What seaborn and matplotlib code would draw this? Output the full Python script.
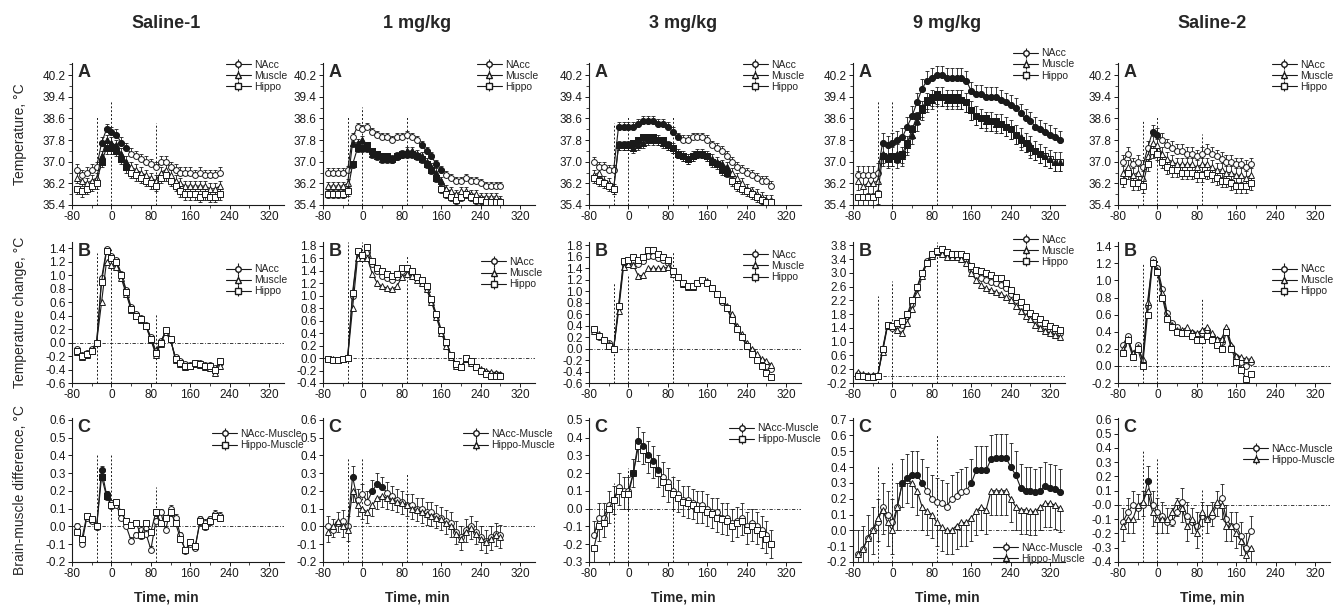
import numpy as np
import matplotlib
matplotlib.use("Agg")
import matplotlib.pyplot as plt
import matplotlib.ticker as ticker
import seaborn as sns

# ---- data (10-min bins) ----
COLUMNS = ["Saline-1", "1 mg/kg", "3 mg/kg", "9 mg/kg", "Saline-2"]

T_S1 = list(range(-70, 230, 10))
T_M1 = list(range(-70, 290, 10))
T_M3 = list(range(-70, 300, 10))
T_M9 = list(range(-70, 350, 10))
T_S2 = list(range(-70, 200, 10))

# A: absolute temperature
S1_A_NACC = [36.7,36.5,36.6,36.7,36.8,37.7,38.2,38.1,38.0,37.7, 37.5,37.3,37.2,37.1,37.0,36.9,36.8,37.0,37.0,36.8, 36.7,36.6,36.6,36.6,36.5,36.6,36.5,36.5,36.5,36.6]
S1_A_MUSC = [36.4,36.3,36.2,36.3,36.4,37.2,37.8,37.7,37.6,37.3, 37.0,36.8,36.7,36.6,36.5,36.4,36.3,36.6,36.7,36.5, 36.3,36.2,36.1,36.1,36.1,36.1,36.1,36.0,36.0,36.1]
S1_A_HIPP = [36.0,35.9,36.0,36.1,36.2,37.0,37.5,37.5,37.4,37.1, 36.8,36.6,36.5,36.4,36.3,36.2,36.1,36.4,36.5,36.3, 36.1,35.9,35.8,35.8,35.8,35.7,35.8,35.7,35.7,35.8]

M1_A_NACC = [36.6,36.6,36.6,36.6,36.7,37.9,38.3,38.2,38.3,38.1, 38.0,37.9,37.9,37.8,37.9,37.9,38.0,37.9,37.8,37.6, 37.4,37.2,36.9,36.7,36.5,36.4,36.3,36.3,36.4,36.3, 36.3,36.2,36.1,36.1,36.1,36.1]
M1_A_MUSC = [36.1,36.1,36.1,36.1,36.2,37.7,37.7,37.8,37.5,37.3, 37.2,37.1,37.1,37.1,37.2,37.3,37.4,37.4,37.3,37.2, 37.0,36.8,36.6,36.3,36.0,35.9,35.8,35.9,35.9,35.8, 35.8,35.7,35.7,35.7,35.7,35.6]
M1_A_HIPP = [35.8,35.8,35.8,35.8,35.9,36.9,37.5,37.5,37.6,37.4, 37.3,37.2,37.2,37.1,37.2,37.3,37.3,37.3,37.2,37.1, 36.9,36.7,36.4,36.0,35.8,35.7,35.6,35.7,35.8,35.7, 35.6,35.6,35.5,35.5,35.5,35.5]

M3_A_NACC = [37.0,36.8,36.8,36.7,36.7,38.3,38.3,38.3,38.3,38.4, 38.5,38.5,38.5,38.4,38.4,38.3,38.1,37.9,37.8,37.8, 37.9,37.9,37.9,37.8,37.6,37.5,37.4,37.2,37.0,36.8, 36.7,36.6,36.5,36.4,36.3,36.3,36.1]
M3_A_MUSC = [36.5,36.6,36.3,36.2,36.0,37.6,37.6,37.6,37.5,37.6, 37.7,37.8,37.8,37.8,37.7,37.6,37.5,37.3,37.2,37.1, 37.2,37.3,37.3,37.2,37.1,37.0,36.9,36.8,36.6,36.4, 36.2,36.0,35.9,35.8,35.7,35.6,35.6]
M3_A_HIPP = [36.4,36.3,36.2,36.1,36.0,37.6,37.6,37.6,37.7,37.8, 37.9,37.9,37.9,37.8,37.8,37.6,37.5,37.3,37.2,37.1, 37.2,37.3,37.3,37.2,37.0,36.9,36.7,36.6,36.3,36.1, 36.0,35.9,35.8,35.7,35.6,35.5,35.5]

M9_A_NACC = [36.5,36.5,36.5,36.5,36.6,37.7,37.6,37.7,37.8,37.9, 38.3,38.7,39.2,39.7,40.0,40.1,40.2,40.2,40.1,40.1, 40.1,40.1,40.0,39.6,39.5,39.5,39.4,39.4,39.4,39.3, 39.2,39.1,39.0,38.8,38.6,38.5,38.3,38.2,38.1,38.0, 37.9,37.8]
M9_A_MUSC = [36.3,36.1,36.2,36.2,36.3,37.3,37.2,37.2,37.3,37.2, 37.6,38.0,38.5,38.9,39.2,39.3,39.4,39.4,39.3,39.3, 39.3,39.3,39.2,38.9,38.7,38.6,38.5,38.5,38.4,38.4, 38.3,38.2,38.0,37.9,37.7,37.6,37.4,37.3,37.2,37.1, 37.0,37.0]
M9_A_HIPP = [35.7,35.7,35.7,35.7,35.8,37.2,37.1,37.2,37.1,37.3, 37.7,38.2,38.7,39.0,39.3,39.4,39.5,39.4,39.4,39.4, 39.4,39.3,39.2,38.9,38.7,38.6,38.6,38.5,38.5,38.4, 38.3,38.2,38.0,37.8,37.7,37.5,37.4,37.3,37.2,37.1, 37.0,37.0]

S2_A_NACC = [37.0,37.3,36.9,37.0,36.8,37.5,38.1,38.0,37.8,37.6, 37.5,37.4,37.4,37.3,37.3,37.2,37.3,37.4,37.3,37.2, 37.1,37.0,37.0,36.9,36.9,36.8,36.9]
S2_A_MUSC = [36.6,36.8,36.5,36.6,36.4,37.2,37.7,37.6,37.3,37.1, 37.0,36.9,36.9,36.9,36.9,36.8,36.9,36.9,36.8,36.7, 36.7,36.6,36.6,36.5,36.5,36.4,36.5]
S2_A_HIPP = [36.3,36.6,36.2,36.2,36.1,36.9,37.4,37.3,37.0,36.8, 36.7,36.7,36.6,36.6,36.6,36.5,36.5,36.6,36.5,36.4, 36.3,36.3,36.2,36.1,36.1,36.1,36.2]

# B: temperature change from baseline
S1_B_NACC = [-0.1,-0.18,-0.15,-0.1,0.0,0.95,1.38,1.28,1.22,1.02, 0.78,0.52,0.42,0.36,0.26,0.08,-0.12,0.02,0.15,0.03, -0.22,-0.28,-0.32,-0.33,-0.3,-0.3,-0.33,-0.34,-0.38,-0.3]
S1_B_MUSC = [-0.14,-0.22,-0.18,-0.12,0.0,0.6,1.2,1.15,1.12,0.95, 0.72,0.48,0.4,0.34,0.24,0.04,-0.18,-0.02,0.16,0.05, -0.26,-0.32,-0.36,-0.35,-0.32,-0.33,-0.36,-0.38,-0.45,-0.35]
S1_B_HIPP = [-0.12,-0.2,-0.17,-0.12,0.0,0.9,1.35,1.25,1.2,1.0, 0.75,0.5,0.4,0.35,0.25,0.05,-0.15,0.0,0.18,0.05, -0.25,-0.3,-0.35,-0.35,-0.3,-0.32,-0.35,-0.35,-0.4,-0.28]

M1_B_NACC = [-0.02,-0.03,-0.03,-0.02,0.0,1.0,1.7,1.62,1.7,1.5, 1.4,1.32,1.28,1.25,1.3,1.4,1.42,1.38,1.3,1.22, 1.12,0.92,0.68,0.42,0.22,0.03,-0.12,-0.15,-0.02,-0.08, -0.15,-0.2,-0.24,-0.25,-0.26,-0.27]
M1_B_MUSC = [-0.02,-0.02,-0.03,-0.02,0.0,0.8,1.6,1.6,1.6,1.35, 1.2,1.15,1.12,1.1,1.15,1.3,1.35,1.32,1.25,1.2, 1.1,0.9,0.65,0.4,0.2,0.02,-0.12,-0.15,-0.02,-0.08, -0.15,-0.18,-0.2,-0.22,-0.24,-0.25]
M1_B_HIPP = [-0.02,-0.03,-0.03,-0.02,0.0,1.05,1.72,1.65,1.78,1.55, 1.45,1.4,1.35,1.32,1.35,1.45,1.45,1.4,1.3,1.25, 1.15,0.95,0.7,0.45,0.25,0.05,-0.1,-0.15,0.0,-0.05, -0.15,-0.2,-0.25,-0.28,-0.28,-0.28]

M3_B_NACC = [0.35,0.2,0.15,0.1,0.0,0.72,1.5,1.52,1.55,1.48, 1.52,1.62,1.62,1.58,1.55,1.5,1.32,1.25,1.12,1.08, 1.1,1.15,1.2,1.15,1.05,0.95,0.82,0.7,0.55,0.35, 0.2,0.05,-0.05,-0.15,-0.22,-0.3,-0.35]
M3_B_MUSC = [0.3,0.25,0.15,0.08,0.0,0.65,1.42,1.48,1.45,1.27, 1.28,1.4,1.4,1.4,1.4,1.42,1.3,1.25,1.12,1.08, 1.08,1.15,1.2,1.18,1.05,0.95,0.85,0.75,0.6,0.4, 0.25,0.1,0.0,-0.1,-0.18,-0.22,-0.28]
M3_B_HIPP = [0.35,0.22,0.15,0.05,0.0,0.75,1.52,1.55,1.6,1.55, 1.6,1.72,1.72,1.65,1.6,1.55,1.35,1.25,1.15,1.1, 1.1,1.15,1.2,1.15,1.05,0.95,0.85,0.7,0.5,0.35, 0.2,0.05,-0.1,-0.2,-0.3,-0.42,-0.5]

M9_B_NACC = [0.05,0.0,0.0,0.0,0.0,0.75,1.5,1.4,1.5,1.5, 1.75,2.1,2.55,3.0,3.35,3.55,3.65,3.65,3.55,3.5, 3.5,3.5,3.4,3.1,2.95,2.85,2.8,2.75,2.7,2.65, 2.55,2.4,2.2,2.05,1.9,1.75,1.65,1.55,1.45,1.35, 1.3,1.25]
M9_B_MUSC = [0.12,0.05,0.02,0.02,0.02,0.7,1.45,1.45,1.35,1.25, 1.55,1.95,2.4,2.9,3.3,3.5,3.6,3.55,3.45,3.45, 3.45,3.4,3.3,3.0,2.8,2.65,2.55,2.5,2.45,2.4, 2.3,2.2,2.05,1.9,1.75,1.65,1.5,1.4,1.3,1.25, 1.2,1.15]
M9_B_HIPP = [0.0,0.0,-0.02,-0.02,0.0,0.8,1.5,1.45,1.55,1.6, 1.8,2.2,2.6,3.0,3.3,3.55,3.65,3.7,3.6,3.55, 3.55,3.55,3.5,3.2,3.1,3.05,3.0,2.95,2.85,2.85, 2.7,2.5,2.3,2.15,2.0,1.85,1.75,1.65,1.55,1.45, 1.4,1.35]

S2_B_NACC = [0.25,0.35,0.12,0.25,0.05,0.7,1.25,1.15,0.9,0.62, 0.5,0.45,0.4,0.4,0.38,0.35,0.38,0.42,0.35,0.3, 0.28,0.42,0.22,0.1,0.05,0.0,0.05]
S2_B_MUSC = [0.2,0.32,0.15,0.22,0.08,0.75,1.22,1.12,0.85,0.58, 0.48,0.42,0.42,0.45,0.4,0.38,0.42,0.45,0.38,0.32, 0.32,0.45,0.25,0.12,0.1,0.08,0.08]
S2_B_HIPP = [0.15,0.3,0.1,0.2,0.0,0.6,1.2,1.1,0.8,0.55, 0.45,0.4,0.38,0.38,0.35,0.3,0.3,0.35,0.3,0.25, 0.2,0.4,0.2,0.05,-0.05,-0.15,-0.1]

# C: brain-muscle differentials
S1_C_NACC = [0.0,-0.1,0.05,0.03,0.0,0.32,0.18,0.13,0.12,0.05, 0.0,-0.08,-0.05,-0.02,-0.04,-0.13,0.03,0.08,-0.02,0.1, 0.05,-0.05,-0.14,-0.1,-0.12,0.04,0.02,0.04,0.07,0.06]
S1_C_HIPP = [-0.03,-0.07,0.06,0.04,0.0,0.28,0.17,0.12,0.14,0.08, 0.03,0.01,0.02,-0.05,0.02,-0.03,0.08,0.02,0.05,0.08, 0.02,-0.07,-0.13,-0.09,-0.11,0.03,0.0,0.03,0.06,0.05]

M1_C_NACC = [0.0,-0.02,0.02,0.03,0.0,0.28,0.15,0.18,0.14,0.2, 0.24,0.22,0.19,0.17,0.15,0.14,0.12,0.12,0.1,0.1, 0.08,0.08,0.06,0.05,0.03,0.02,-0.03,-0.06,-0.02,0.0, -0.03,-0.06,-0.08,-0.06,-0.04,-0.05]
M1_C_HIPP = [-0.03,0.0,0.03,0.0,-0.02,0.2,0.12,0.1,0.08,0.12, 0.16,0.17,0.16,0.15,0.14,0.13,0.12,0.1,0.09,0.08, 0.07,0.06,0.05,0.04,0.02,0.0,-0.04,-0.07,-0.03,-0.01, -0.04,-0.07,-0.09,-0.07,-0.05,-0.06]

M3_C_NACC = [-0.15,-0.05,-0.05,0.02,0.05,0.12,0.1,0.1,0.2,0.38, 0.35,0.3,0.27,0.22,0.18,0.15,0.1,0.08,0.05,0.05, 0.03,0.02,0.02,0.0,-0.02,-0.02,-0.05,-0.05,-0.08,-0.07, -0.05,-0.1,-0.08,-0.1,-0.12,-0.15,-0.2]
M3_C_HIPP = [-0.22,-0.1,-0.08,0.0,0.05,0.1,0.08,0.08,0.2,0.35, 0.33,0.28,0.25,0.2,0.15,0.12,0.08,0.06,0.04,0.03, 0.02,0.0,0.0,-0.02,-0.03,-0.05,-0.06,-0.07,-0.1,-0.08, -0.07,-0.12,-0.1,-0.12,-0.14,-0.17,-0.2]

M9_C_NACC = [-0.15,-0.12,-0.05,0.0,0.05,0.15,0.1,0.05,0.15,0.3, 0.33,0.35,0.35,0.3,0.25,0.2,0.18,0.17,0.15,0.2, 0.22,0.24,0.25,0.3,0.38,0.38,0.38,0.45,0.46,0.46, 0.46,0.4,0.35,0.27,0.25,0.25,0.24,0.25,0.28,0.27, 0.26,0.24]
M9_C_HIPP = [-0.15,-0.12,-0.05,0.0,0.08,0.13,0.05,0.0,0.15,0.3, 0.32,0.3,0.25,0.15,0.12,0.1,0.05,0.02,0.0,0.0, 0.03,0.05,0.05,0.08,0.12,0.15,0.13,0.25,0.25,0.25, 0.25,0.2,0.15,0.13,0.13,0.12,0.12,0.15,0.17,0.17, 0.16,0.14]

S2_C_NACC = [-0.12,-0.05,0.0,-0.02,0.0,0.17,0.0,-0.05,-0.08,-0.12, -0.12,-0.05,0.02,-0.08,-0.12,-0.15,-0.08,-0.1,-0.08,0.0, 0.05,-0.1,-0.15,-0.15,-0.22,-0.3,-0.18]
S2_C_HIPP = [-0.15,-0.1,-0.1,0.0,0.02,0.1,-0.05,-0.1,-0.1,-0.1, -0.05,0.02,-0.02,-0.15,-0.1,-0.2,-0.05,-0.1,-0.05,0.02, 0.0,-0.15,-0.15,-0.2,-0.25,-0.35,-0.3]

# typical SEM per column (row A and row C)
SEM_A = [0.2, 0.15, 0.18, 0.35, 0.25]
SEM_C = [0.02, 0.06, 0.08, 0.15, 0.1]

# time windows with significant change (filled symbols)
SIG_A_NACC = [[(-20, 30)], [(120, 160)], [(-20, 100)], [(-20, 340)], [(-10, 0)]]
SIG_A_MUSC = [[(-20, 30)], [(-20, 160)], [(-20, 200)], [(-20, 340)], []]
SIG_A_HIPP = [[(-20, 30)], [(-20, 150)], [(-20, 200)], [(-20, 300)], []]
SIG_C_NACC = [[(-20, -10)], [(-20, -20), (20, 40)], [(10, 60)], [(20, 60), (160, 340)], [(-20, -20)]]
SIG_C_HIPP = [[(-20, -10)], [], [], [], []]

ROW_A_LABELS = ["NAcc", "Muscle", "Hippo"]
ROW_C_LABELS = ["NAcc-Muscle", "Hippo-Muscle"]
EVENT_TIMES = [-30, 0, 90]

# ---- panel settings ----
times = [T_S1, T_M1, T_M3, T_M9, T_S2]
row_a = [[S1_A_NACC, S1_A_MUSC, S1_A_HIPP], [M1_A_NACC, M1_A_MUSC, M1_A_HIPP],
         [M3_A_NACC, M3_A_MUSC, M3_A_HIPP], [M9_A_NACC, M9_A_MUSC, M9_A_HIPP],
         [S2_A_NACC, S2_A_MUSC, S2_A_HIPP]]
row_b = [[S1_B_NACC, S1_B_MUSC, S1_B_HIPP], [M1_B_NACC, M1_B_MUSC, M1_B_HIPP],
         [M3_B_NACC, M3_B_MUSC, M3_B_HIPP], [M9_B_NACC, M9_B_MUSC, M9_B_HIPP],
         [S2_B_NACC, S2_B_MUSC, S2_B_HIPP]]
row_c = [[S1_C_NACC, S1_C_HIPP], [M1_C_NACC, M1_C_HIPP], [M3_C_NACC, M3_C_HIPP],
         [M9_C_NACC, M9_C_HIPP], [S2_C_NACC, S2_C_HIPP]]
c_markers = [["o", "s"], ["o", "^"], ["o", "s"], ["o", "^"], ["o", "^"]]

ylim_b = [(-0.6, 1.49, 0.2), (-0.4, 1.86, 0.2), (-0.6, 1.86, 0.2), (-0.2, 3.9, 0.4), (-0.2, 1.45, 0.2)]
ylim_c = [(-0.2, 0.61), (-0.2, 0.61), (-0.3, 0.51), (-0.2, 0.71), (-0.4, 0.61)]

vtops_a = [[0.63, 0.73, 0.58], [0.63, 0.69, 0.63], [0.58, 0.62, 0.62], [0.73, 0.73, 0.81], [0.6, 0.63, 0.5]]
vtops_b = [[0.92, 0.95, 0.5], [1.0, 1.0, 0.9], [0.71, 0.77, 0.93], [0.62, 0.72, 1.0], [0.85, 0.88, 0.6]]
vtops_c = [[0.75, 0.75, 0.52], [0.72, 0.72, 0.62], [0.55, 0.65, 0.6], [0.67, 0.69, 0.89], [0.77, 0.72, 0.5]]

leg_a = [("upper right", (1.02, 1.03))] * 3 + [("upper right", (1.05, 1.11)), ("upper right", (1.02, 1.03))]
leg_b = [("upper right", (1.02, 0.85)), ("upper right", (1.04, 0.9)), ("upper right", (1.02, 0.95)),
         ("upper right", (1.05, 1.06)), ("upper right", (1.02, 0.85))]
leg_c = [("upper right", (1.1, 0.93)), ("upper right", (1.1, 0.93)), ("upper right", (1.1, 0.97)),
         ("lower right", (1.1, -0.02)), ("upper right", (1.03, 0.83))]

sns.set_theme(style="ticks")
plt.rcParams["font.family"] = ["Liberation Sans", "DejaVu Sans"]
plt.rcParams["axes.unicode_minus"] = False

fig = plt.figure(figsize=(13.41, 6.10), dpi=100)
W, H = 1341.0, 610.0
col_left = [72, 323, 589, 853, 1118]
ax_w = 212
rows_px = [(63, 205), (242, 383), (418, 562)]


def in_windows(t, windows):
    t = np.asarray(t)
    mask = np.zeros(len(t), dtype=bool)
    for a, b in windows:
        mask |= (t >= a) & (t <= b)
    return mask


def draw_series(ax, t, y, marker, sem=0.0, side="both", windows=()):
    t = np.asarray(t, dtype=float)
    y = np.asarray(y, dtype=float)
    if sem:
        lo = np.full(len(y), sem if side in ("both", "down") else 0.0)
        hi = np.full(len(y), sem if side in ("both", "up") else 0.0)
        ax.errorbar(t, y, yerr=[lo, hi], fmt="none", ecolor="k", elinewidth=0.6,
                    capsize=1.5, capthick=0.6, zorder=1)
    sns.lineplot(x=t, y=y, ax=ax, color="k", linewidth=0.8, marker=marker,
                 markersize=4.2, markerfacecolor="white", markeredgecolor="k",
                 markeredgewidth=0.7, sort=False, estimator=None, errorbar=None,
                 zorder=2)
    mask = in_windows(t, windows)
    if mask.any():
        ax.plot(t[mask], y[mask], ls="none", marker=marker, ms=4.2, mfc="k",
                mec="k", mew=0.7, zorder=3)


def add_legend(ax, labels, markers, pos):
    handles = []
    for lab, m in zip(labels, markers):
        h = ax.errorbar([np.nan], [np.nan], yerr=[0.1], fmt="-", marker=m, color="k",
                        mfc="white", mec="k", ms=4, lw=0.8, elinewidth=0.8, capsize=0,
                        label=lab)
        handles.append(h)
    loc, anchor = pos
    ax.legend(handles=handles, loc=loc, bbox_to_anchor=anchor, frameon=False,
              fontsize=7.5, handlelength=2.4, handletextpad=0.3, labelspacing=0.1,
              borderaxespad=0.0, borderpad=0.1)


def style_axes(ax, ylo, yhi, ystep, yminor, letter, vtops, zero_line):
    ax.set_xlim(-80, 350)
    ax.set_ylim(ylo, yhi)
    ax.xaxis.set_major_locator(ticker.MultipleLocator(80))
    ax.xaxis.set_minor_locator(ticker.MultipleLocator(40))
    ax.yaxis.set_major_locator(ticker.FixedLocator(np.arange(ylo, yhi + 1e-6, ystep)))
    if yminor:
        ax.yaxis.set_minor_locator(ticker.FixedLocator(np.arange(ylo, yhi + 1e-6, ystep / 2)))
    ax.yaxis.set_major_formatter(ticker.FormatStrFormatter("%.1f"))
    ax.tick_params(axis="both", which="major", labelsize=8.5, length=3, width=0.7,
                   direction="out", pad=1.5, colors="k")
    ax.tick_params(axis="both", which="minor", length=2, width=0.6, direction="out")
    for s in ["top", "right"]:
        ax.spines[s].set_visible(False)
    for s in ["left", "bottom"]:
        ax.spines[s].set_linewidth(0.8)
        ax.spines[s].set_color("k")
    ax.set_xlabel("")
    ax.set_ylabel("")
    for x, top in zip(EVENT_TIMES, vtops):
        ax.axvline(x, ymin=0, ymax=top, color="k", lw=0.7, ls=(0, (2, 2)), zorder=0)
    if zero_line:
        ax.axhline(0.0, color="k", lw=0.6, ls=(0, (4, 2, 1, 2)), zorder=0)
    ax.text(0.025, 0.99, letter, transform=ax.transAxes, fontsize=13,
            fontweight="bold", va="top", ha="left")
    ax.set_facecolor("white")


for c in range(5):
    axes = []
    for (top, bot) in rows_px:
        rect = [col_left[c] / W, 1 - bot / H, ax_w / W, (bot - top) / H]
        axes.append(fig.add_axes(rect))
    ax_a, ax_b, ax_c = axes
    t = times[c]

    # row A
    sigs = [SIG_A_NACC[c], SIG_A_MUSC[c], SIG_A_HIPP[c]]
    for y, m, side, w in zip(row_a[c], ["o", "^", "s"], ["up", "both", "down"], sigs):
        draw_series(ax_a, t, y, m, SEM_A[c], side, w)
    style_axes(ax_a, 35.4, 40.65, 0.8, True, "A", vtops_a[c], False)
    add_legend(ax_a, ROW_A_LABELS, ["o", "^", "s"], leg_a[c])

    # row B
    for y, m in zip(row_b[c], ["o", "^", "s"]):
        draw_series(ax_b, t, y, m)
    ylo, yhi, ystep = ylim_b[c]
    style_axes(ax_b, ylo, yhi, ystep, False, "B", vtops_b[c], True)
    add_legend(ax_b, ROW_A_LABELS, ["o", "^", "s"], leg_b[c])

    # row C
    sigs = [SIG_C_NACC[c], SIG_C_HIPP[c]]
    for y, m, side, w in zip(row_c[c], c_markers[c], ["up", "down"], sigs):
        draw_series(ax_c, t, y, m, SEM_C[c], side, w)
    ylo, yhi = ylim_c[c]
    style_axes(ax_c, ylo, yhi, 0.1, False, "C", vtops_c[c], True)
    add_legend(ax_c, ROW_C_LABELS, c_markers[c], leg_c[c])

    cx = (col_left[c] + 94) / W
    fig.text(cx, 1 - 24 / H, COLUMNS[c], ha="center", va="center",
             fontsize=13, fontweight="bold")
    fig.text(cx, 1 - 598 / H, "Time, min", ha="center", va="center",
             fontsize=10, fontweight="bold")

fig.text(20 / W, 1 - 134 / H, "Temperature, °C", rotation=90, ha="center",
         va="center", fontsize=10)
fig.text(20 / W, 1 - 312 / H, "Temperature change, °C", rotation=90, ha="center",
         va="center", fontsize=10)
fig.text(20 / W, 1 - 490 / H, "Brain-muscle difference, °C", rotation=90,
         ha="center", va="center", fontsize=10)

fig.savefig("out.png", dpi=100, facecolor="white")
